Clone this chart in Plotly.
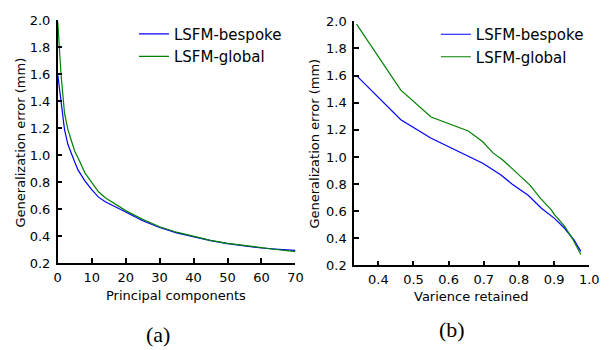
import plotly.graph_objects as go

# ---- Data: (a) error vs number of principal components ----
pc_x = [0, 1, 2, 3, 4, 5, 6, 8, 10, 12, 14, 17, 20, 25, 30, 35, 40, 45, 50, 55, 60, 65, 70]
pc_bespoke = [1.60, 1.37, 1.19, 1.08, 1.01, 0.95, 0.89, 0.81, 0.745, 0.69, 0.655, 0.615, 0.58,
              0.515, 0.465, 0.425, 0.395, 0.368, 0.345, 0.328, 0.313, 0.303, 0.295]
pc_global = [1.99, 1.59, 1.31, 1.19, 1.11, 1.03, 0.98, 0.87, 0.80, 0.73, 0.685, 0.635, 0.59,
             0.525, 0.47, 0.43, 0.398, 0.37, 0.347, 0.33, 0.315, 0.30, 0.286]

# ---- Data: (b) error vs variance retained ----
var_bespoke_x = [0.338, 0.464, 0.549, 0.655, 0.697, 0.748, 0.781, 0.827, 0.864, 0.901, 0.929, 0.957, 0.976]
var_bespoke_y = [1.60, 1.274, 1.14, 1.003, 0.954, 0.868, 0.799, 0.716, 0.622, 0.547, 0.476, 0.386, 0.304]
var_global_x = [0.338, 0.464, 0.55, 0.656, 0.697, 0.726, 0.754, 0.799, 0.832, 0.86, 0.892, 0.901, 0.929, 0.952, 0.976]
var_global_y = [1.98, 1.493, 1.295, 1.192, 1.112, 1.03, 0.978, 0.869, 0.791, 0.698, 0.61, 0.575, 0.492, 0.398, 0.28]

pc_ticks = [0, 10, 20, 30, 40, 50, 60, 70]
var_ticks = [0.4, 0.5, 0.6, 0.7, 0.8, 0.9, 1.0]
err_ticks = [0.2, 0.4, 0.6, 0.8, 1.0, 1.2, 1.4, 1.6, 1.8, 2.0]

BLUE = "#0000ff"
GREEN = "#008000"
FONT = "DejaVu Sans"
W, H = 610, 350

fig = go.Figure()
fig.add_trace(go.Scatter(x=pc_x, y=pc_bespoke, mode="lines", name="LSFM-bespoke",
                         line=dict(color=BLUE, width=1.2), xaxis="x", yaxis="y",
                         legend="legend"))
fig.add_trace(go.Scatter(x=pc_x, y=pc_global, mode="lines", name="LSFM-global",
                         line=dict(color=GREEN, width=1.2), xaxis="x", yaxis="y",
                         legend="legend"))
fig.add_trace(go.Scatter(x=var_bespoke_x, y=var_bespoke_y, mode="lines", name="LSFM-bespoke",
                         line=dict(color=BLUE, width=1.2), xaxis="x2", yaxis="y2",
                         legend="legend2"))
fig.add_trace(go.Scatter(x=var_global_x, y=var_global_y, mode="lines", name="LSFM-global",
                         line=dict(color=GREEN, width=1.2), xaxis="x2", yaxis="y2",
                         legend="legend2"))

axis_common = dict(showline=True, linecolor="black", linewidth=1.5, ticks="inside",
                   ticklen=5, tickwidth=1.5, tickcolor="black", showgrid=False,
                   zeroline=False, mirror=False,
                   tickfont=dict(family=FONT, size=13, color="black"))

fig.update_layout(
    width=W, height=H, margin=dict(l=0, r=0, t=0, b=0),
    paper_bgcolor="white", plot_bgcolor="white",
    font=dict(family=FONT, size=13, color="black"),
    xaxis=dict(domain=[55 / W, 298.3 / W], range=[0, 70], tickvals=pc_ticks,
               anchor="y", ticklabelstandoff=1, **axis_common),
    yaxis=dict(domain=[1 - 267.7 / H, 1 - 14 / H], range=[0.2, 2.0], tickvals=err_ticks,
               tickformat=".1f", anchor="x", ticklabelstandoff=3, **axis_common),
    xaxis2=dict(domain=[358.3 / W, 599 / W], range=[0.331, 1.0], tickvals=var_ticks,
                tickformat=".1f", anchor="y2", ticklabelstandoff=1, **axis_common),
    yaxis2=dict(domain=[1 - 270 / H, 1 - 15 / H], range=[0.2, 2.0], tickvals=err_ticks,
                tickformat=".1f", anchor="x2", ticklabelstandoff=3, **axis_common),
    legend=dict(x=133 / W, y=1 - 11 / H, xanchor="left", yanchor="top",
                bgcolor="rgba(0,0,0,0)", borderwidth=0, tracegroupgap=0,
                font=dict(family=FONT, size=15, color="black")),
    legend2=dict(x=442 / W, y=1 - 11.5 / H, xanchor="left", yanchor="top",
                 bgcolor="rgba(0,0,0,0)", borderwidth=0, tracegroupgap=0,
                 font=dict(family=FONT, size=15, color="black")),
    showlegend=True,
)

annots = [
    dict(text="Principal components", x=176 / W, y=1 - 301 / H),
    dict(text="Varience retained", x=478 / W, y=1 - 302 / H),
    dict(text="Generalization error (mm)", x=17 / W, y=1 - 142 / H, textangle=-90),
    dict(text="Generalization error (mm)", x=318 / W, y=1 - 143 / H, textangle=-90),
]
for a in annots:
    fig.add_annotation(xref="paper", yref="paper", xanchor="center", yanchor="middle",
                       showarrow=False, font=dict(family=FONT, size=13, color="black"), **a)

for txt, cx, cy in [("(a)", 158, 342), ("(b)", 459, 337)]:
    fig.add_annotation(text=txt, xref="paper", yref="paper", x=cx / W, y=1 - cy / H,
                       xanchor="center", yanchor="middle", showarrow=False,
                       font=dict(family="Liberation Serif", size=22, color="black"))

fig.write_html("out.html")
